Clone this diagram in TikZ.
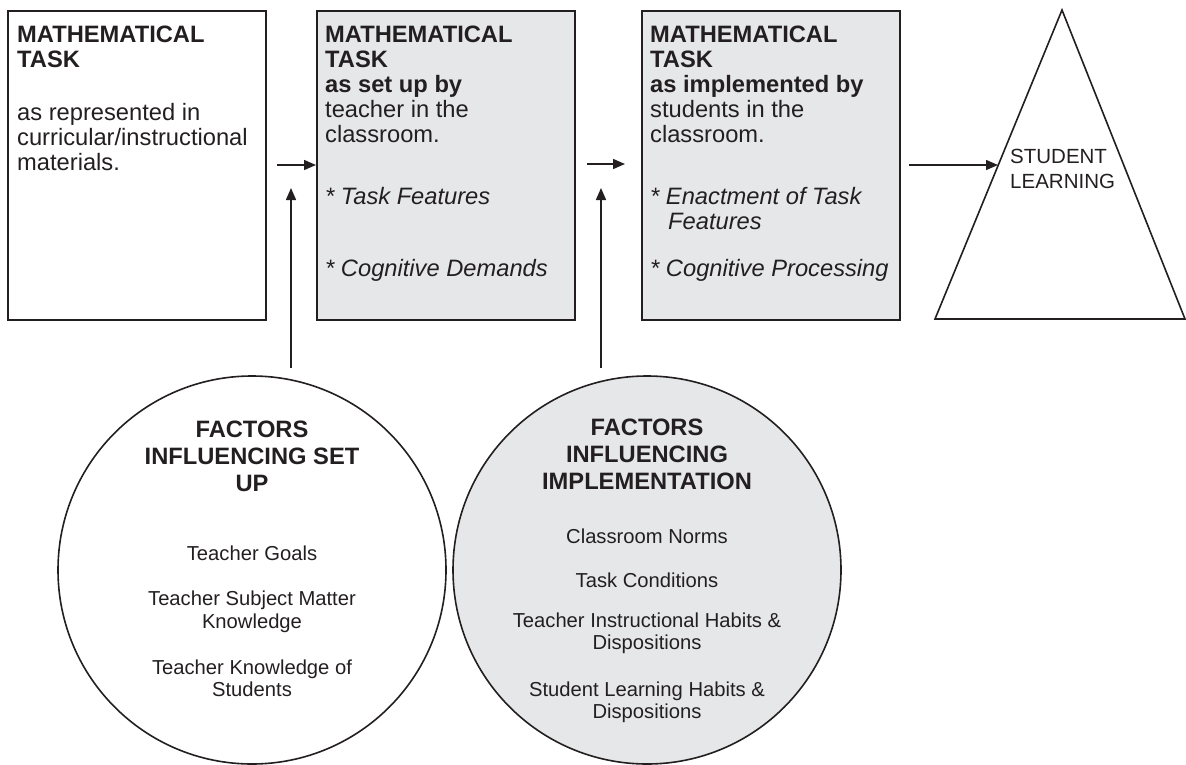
\documentclass[tikz,border=0pt]{standalone}
\usepackage{fontspec}
\setmainfont{Liberation Sans}
\usetikzlibrary{arrows.meta}
\definecolor{ink}{HTML}{231F20}
\definecolor{panel}{HTML}{E6E7E8}
\begin{document}
\begin{tikzpicture}[x=1pt,y=-1pt,
  frame/.style={draw=ink, line width=1.8pt, inner sep=0pt, anchor=north west,
    minimum width=258pt, minimum height=309pt},
  shaded/.style={fill=panel},
  boxtext/.style={anchor=north west, inner sep=0pt, align=left, text=ink,
    font=\fontsize{23.7}{25}\selectfont},
  ring/.style={circle, draw=ink, line width=1.6pt, minimum size=388pt, inner sep=0pt},
  ringtitle/.style={anchor=north, inner sep=0pt, align=center, text=ink,
    font=\fontsize{23.7}{27}\selectfont\bfseries},
  ringitems/.style={anchor=north, inner sep=0pt, align=center, text=ink,
    font=\fontsize{20.2}{22.5}\selectfont},
  flow/.style={draw=ink, line width=1.5pt, -{Triangle[length=12pt,width=10pt]}}
]
\useasboundingbox (0,0) rectangle (1186,765);

% the three task boxes
\node[frame] (b1) at (7,10) {};
\node[frame, shaded] (b2) at (316,10) {};
\node[frame, shaded] (b3) at (641,10) {};

\node[boxtext] (t1) at (17,25.7)
  {\textbf{MATHEMATICAL}\\\textbf{TASK}\\[28pt]as represented in\\curricular/instructional\\materials.};
\node[boxtext] (t2) at (325,25.7)
  {\textbf{MATHEMATICAL}\\\textbf{TASK}\\\textbf{as set up by}\\teacher in the\\classroom.\\[37pt]%
   \textit{* Task Features}\\[47pt]\textit{* Cognitive Demands}};
\node[boxtext] (t3) at (650,25.7)
  {\textbf{MATHEMATICAL}\\\textbf{TASK}\\\textbf{as implemented by}\\students in the\\classroom.\\[37pt]%
   \textit{* Enactment of Task}\\\hspace*{18pt}\textit{Features}\\[22pt]\textit{* Cognitive Processing}};

% student learning triangle
\coordinate (apex) at (1062,10);
\coordinate (baseL) at (935,319);
\coordinate (baseR) at (1185,319);
\draw[ink, line width=1.6pt, line join=miter] (apex) -- (baseL) -- (baseR) -- cycle;
\node[anchor=north west, inner sep=0pt, align=left, text=ink,
  font=\fontsize{20.5}{25}\selectfont] (sl) at (1010,149) {STUDENT\\LEARNING};

% factor circles
\node[ring] (c1) at (252,570) {};
\node[ring, shaded] (c2) at (647,570) {};

\node[ringtitle] (c1t) at (252,420.7) {FACTORS\\INFLUENCING SET\\UP};
\node[ringitems] (c1i) at (252,545.5)
  {Teacher Goals\\[23pt]Teacher Subject Matter\\Knowledge\\[23.5pt]Teacher Knowledge of\\Students};

\node[ringtitle] (c2t) at (647,419) {FACTORS\\INFLUENCING\\IMPLEMENTATION};
\node[ringitems] (c2i) at (647,528.5)
  {Classroom Norms\\[22pt]Task Conditions\\[17pt]Teacher Instructional Habits \&\\Dispositions\\[24pt]%
   Student Learning Habits \&\\Dispositions};

% connectors
\coordinate (a1s) at (277,165);
\coordinate (a2s) at (587,164);
\coordinate (a2e) at (625,164);
\coordinate (a3s) at (909,165);
\coordinate (a3e) at (998,165);
\coordinate (v1s) at (291,368);
\coordinate (v1e) at (291,188);
\coordinate (v2s) at (601,368);
\coordinate (v2e) at (601,188);

\draw[flow] (a1s) -- (a1s -| b2.west);
\draw[flow] (a2s) -- (a2e);
\draw[flow] (a3s) -- (a3e);
\draw[flow] (v1s) -- (v1e);
\draw[flow] (v2s) -- (v2e);
\end{tikzpicture}
\end{document}
